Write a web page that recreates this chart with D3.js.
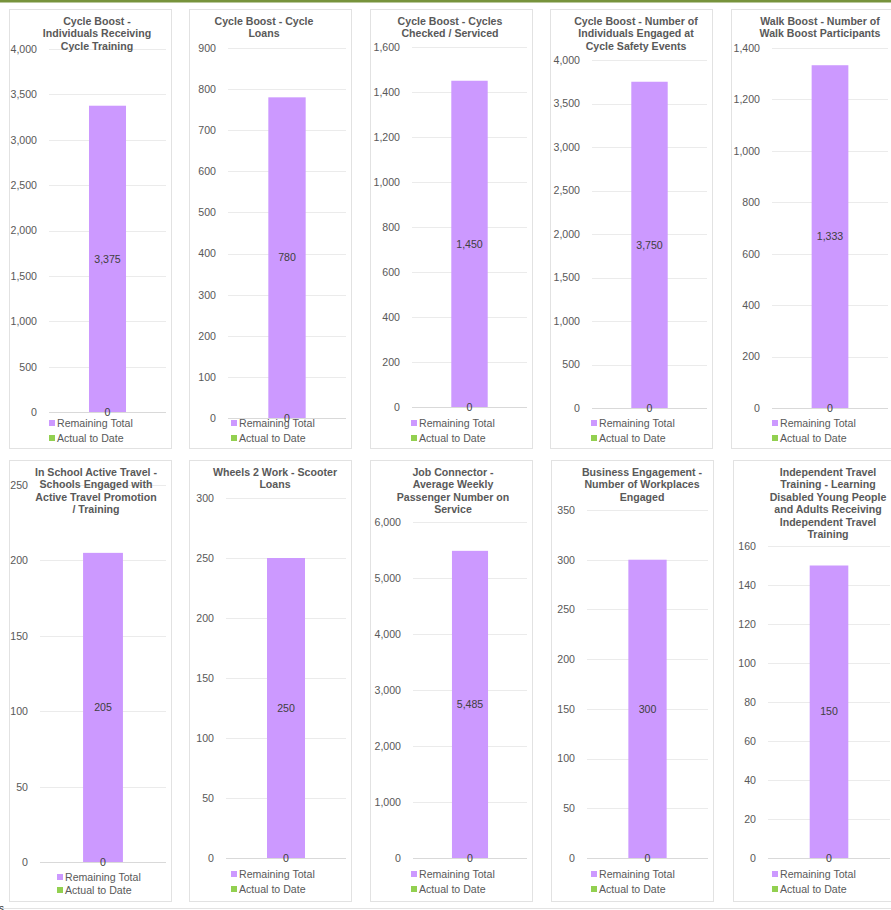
<!DOCTYPE html>
<html>
<head>
<meta charset="utf-8">
<script src="https://cdn.jsdelivr.net/npm/d3@7"></script>
<style>
  html, body { margin: 0; padding: 0; background: #ffffff; overflow: hidden; }
  svg { display: block; font-family: "Liberation Sans", Arial, sans-serif; }
</style>
</head>
<body>
<script>
// ---------- DATA ----------
const titles = [
  ["Cycle Boost -", "Individuals Receiving", "Cycle Training"],
  ["Cycle Boost - Cycle", "Loans"],
  ["Cycle Boost - Cycles", "Checked / Serviced"],
  ["Cycle Boost - Number of", "Individuals Engaged at", "Cycle Safety Events"],
  ["Walk Boost - Number of", "Walk Boost Participants"],
  ["In School Active Travel -", "Schools Engaged with", "Active Travel Promotion", "/ Training"],
  ["Wheels 2 Work - Scooter", "Loans"],
  ["Job Connector -", "Average Weekly", "Passenger Number on", "Service"],
  ["Business Engagement -", "Number of Workplaces", "Engaged"],
  ["Independent Travel", "Training - Learning", "Disabled Young People", "and Adults Receiving", "Independent Travel", "Training"]
];
const remainingTotal = [3375, 780, 1450, 3750, 1333, 205, 250, 5485, 300, 150];
const actualToDate   = [0, 0, 0, 0, 0, 0, 0, 0, 0, 0];
const axisMax  = [4000, 900, 1600, 4000, 1400, 250, 300, 6000, 350, 160];
const axisStep = [500, 100, 200, 500, 200, 50, 50, 1000, 50, 20];
const seriesNames = ["Remaining Total", "Actual to Date"];

// ---------- LAYOUT ----------
const W = 891, H = 910;
const panelLeft = [9, 189, 370, 550, 731, 9, 189, 370, 551, 733];
const panelTop  = [9, 9, 9, 9, 9, 460, 460, 460, 460, 460];
const panelBot  = [448, 448, 448, 448, 448, 901, 901, 901, 901, 901];
const panelW = 162;
const plotLeftOff = [40, 39, 42, 42, 41, 31, 37, 43, 36, 35];
const plotRightOff = 157;
const plotTop = [49, 48, 47, 60, 48, 485, 498, 522, 510, 546];
const plotBot = [412, 418, 407, 408, 408, 862, 858, 858, 858, 858];
const titleCx = [97, 264, 450, 636, 820, 96, 275, 453, 642, 828];
const legendOff = [40, 42, 41, 41, 41, 48, 42, 41, 40, 39];
const legendY = [[423, 438], [423, 438], [423, 438], [423, 438], [423, 438],
                 [877, 890], [874, 889], [874, 889], [874, 889], [874, 889]];

const colors = { remaining: "#CC99FF", actual: "#92D050" };
const textColor = "#595959";
const gridColor = "#ebebeb";
const fs = "10.6px";

const svg = d3.select("body").append("svg").attr("width", W).attr("height", H);

// top accent line
svg.append("rect").attr("x", 0).attr("y", 0).attr("width", W).attr("height", 2.5).attr("fill", "#77933C");
// bottom rule
svg.append("line").attr("x1", 0).attr("x2", W).attr("y1", 908.5).attr("y2", 908.5)
  .attr("stroke", "#e3e3e3").attr("stroke-width", 1);
svg.append("text").attr("x", -1).attr("y", 912).attr("font-size", "10px").attr("fill", "#333").text("s");

titles.forEach((t, i) => {
  const g = svg.append("g");
  const px = panelLeft[i], py = panelTop[i];
  // panel frame
  g.append("rect")
    .attr("x", px + 0.5).attr("y", py + 0.5)
    .attr("width", panelW).attr("height", panelBot[i] - py)
    .attr("fill", "#fff").attr("stroke", "#e2e2e2").attr("stroke-width", 1);

  const x0 = px + plotLeftOff[i], x1 = px + plotRightOff;
  const y = d3.scaleLinear().domain([0, axisMax[i]]).range([plotBot[i], plotTop[i]]);
  const x = d3.scaleBand().domain(["total"]).range([x0, x1]).paddingInner(0).paddingOuter(1.08);

  const ticks = d3.range(0, axisMax[i] + axisStep[i] / 2, axisStep[i]);
  // gridlines via axis
  const gridAxis = d3.axisLeft(y).tickValues(ticks).tickSize(-(x1 - x0)).tickFormat("");
  const gg = g.append("g").attr("transform", `translate(${x0},0)`).call(gridAxis);
  gg.select(".domain").remove();
  gg.selectAll(".tick line").attr("stroke", gridColor).attr("stroke-width", 1)
    .attr("shape-rendering", "crispEdges");
  gg.selectAll(".tick").filter(d => d === 0).select("line").attr("stroke", "#d9d9d9");

  // tick labels via axis
  const labAxis = d3.axisLeft(y).tickValues(ticks).tickSize(0).tickPadding(0)
    .tickFormat(d3.format(","));
  const lg = g.append("g").attr("transform", `translate(${x0 - 12},0)`).call(labAxis);
  lg.select(".domain").remove();
  lg.selectAll("text").attr("fill", textColor).attr("font-size", fs)
    .attr("font-family", '"Liberation Sans", Arial, sans-serif');

  // stacked bar: actual at bottom, remaining on top
  const stack = [
    { key: "actual", v0: 0, v1: actualToDate[i] },
    { key: "remaining", v0: actualToDate[i], v1: actualToDate[i] + remainingTotal[i] }
  ];
  g.selectAll("rect.bar").data(stack).enter().append("rect")
    .attr("class", "bar")
    .attr("x", x("total")).attr("width", x.bandwidth())
    .attr("y", d => y(d.v1)).attr("height", d => y(d.v0) - y(d.v1))
    .attr("fill", d => colors[d.key]);

  // data labels
  g.selectAll("text.val").data(stack).enter().append("text")
    .attr("class", "val")
    .attr("x", x("total") + x.bandwidth() / 2)
    .attr("y", d => (y(d.v0) + y(d.v1)) / 2)
    .attr("dy", "0.35em")
    .attr("text-anchor", "middle")
    .attr("font-size", fs).attr("fill", "#404040")
    .text(d => d3.format(",")(d.v1 - d.v0));

  // title
  const tt = g.append("text").attr("text-anchor", "middle").attr("font-weight", "bold")
    .attr("font-size", "10.6px").attr("fill", textColor);
  t.forEach((line, k) => {
    tt.append("tspan").attr("x", titleCx[i]).attr("y", py + 16 + k * 12.4).text(line);
  });

  // legend
  const legKeys = ["remaining", "actual"];
  const lx = px + legendOff[i];
  legKeys.forEach((k, j) => {
    const ly = legendY[i][j];
    g.append("rect").attr("x", lx).attr("y", ly - 3).attr("width", 6).attr("height", 6).attr("fill", colors[k]);
    g.append("text").attr("x", lx + 8).attr("y", ly).attr("dy", "0.35em")
      .attr("font-size", fs).attr("fill", textColor).text(seriesNames[j]);
  });
});
</script>
</body>
</html>
